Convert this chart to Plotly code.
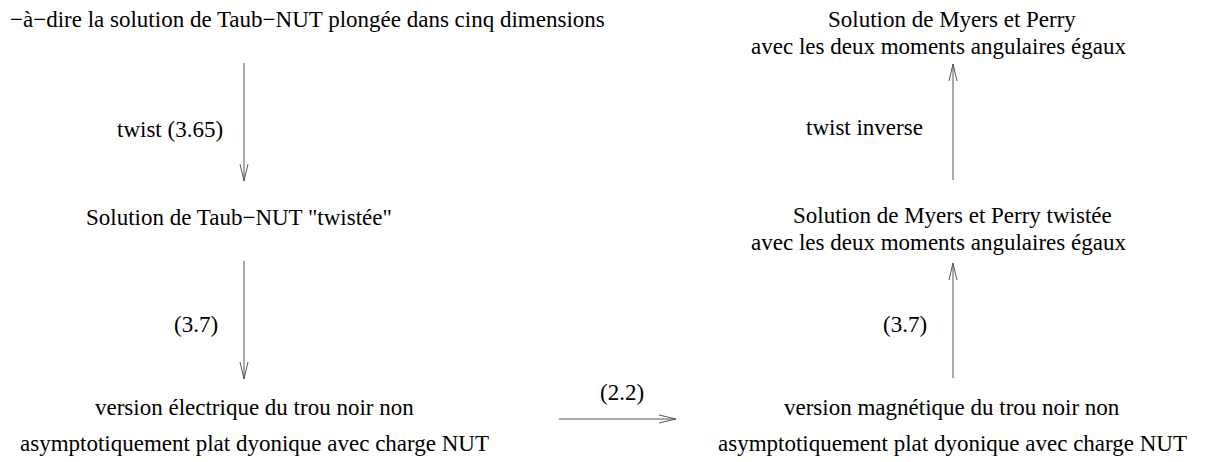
import plotly.graph_objects as go

W, H = 1209, 462
FONT = "Liberation Serif"
FS = 23

# Diagram nodes (text, centre x, centre y, horizontal anchor)
node_text = [
    "−à−dire la solution de Taub−NUT plongée dans cinq dimensions",
    "Solution de Taub−NUT \"twistée\"",
    "version électrique du trou noir non",
    "asymptotiquement plat dyonique avec charge NUT",
    "Solution de Myers et Perry",
    "avec les deux moments angulaires égaux",
    "Solution de Myers et Perry twistée",
    "avec les deux moments angulaires égaux",
    "version magnétique du trou noir non",
    "asymptotiquement plat dyonique avec charge NUT",
]
node_x = [0, 231, 246, 246, 944, 930, 944, 930, 944, 944]
node_y = [11, 209, 399, 435, 11, 38, 207, 234, 399, 435]
node_anchor = ["left", "center", "center", "center", "center",
               "center", "center", "center", "center", "center"]

# Arrow labels (text, x, centre y, anchor)
label_text = ["twist (3.65)", "(3.7)", "twist inverse", "(3.7)", "(2.2)"]
label_x = [217, 212, 917, 921, 614]
label_y = [121, 316, 119, 316, 384]
label_anchor = ["right", "right", "right", "right", "center"]

# Arrows (start -> tip)
arrow_x0 = [236, 236, 945, 945, 551]
arrow_y0 = [55, 253, 172, 370, 411]
arrow_x1 = [236, 236, 945, 945, 668]
arrow_y1 = [173, 371, 56, 255, 411]

HEAD_LEN, HEAD_HALF = 17, 4

fig = go.Figure()

xs, ys = [], []
for x0, y0, x1, y1 in zip(arrow_x0, arrow_y0, arrow_x1, arrow_y1):
    dx, dy = x1 - x0, y1 - y0
    L = (dx * dx + dy * dy) ** 0.5
    ux, uy = dx / L, dy / L
    px, py = -uy, ux
    bx, by = x1 - ux * HEAD_LEN, y1 - uy * HEAD_LEN
    xs += [x0, x1, None,
           bx + px * HEAD_HALF, x1, bx - px * HEAD_HALF, None]
    ys += [y0, y1, None,
           by + py * HEAD_HALF, y1, by - py * HEAD_HALF, None]

fig.add_trace(go.Scatter(x=xs, y=ys, mode="lines",
                         line=dict(color="#555555", width=1),
                         hoverinfo="skip", showlegend=False))

for t, x, y, a in zip(node_text, node_x, node_y, node_anchor):
    fig.add_annotation(x=x, y=y, text=t, showarrow=False, xanchor=a,
                       yanchor="middle", font=dict(family=FONT, size=FS, color="black"))

for t, x, y, a in zip(label_text, label_x, label_y, label_anchor):
    fig.add_annotation(x=x, y=y, text=t, showarrow=False, xanchor=a,
                       yanchor="middle", font=dict(family=FONT, size=FS, color="black"))

fig.update_layout(
    width=W, height=H,
    margin=dict(l=0, r=0, t=0, b=0),
    paper_bgcolor="white", plot_bgcolor="white",
    xaxis=dict(range=[0, W], visible=False, fixedrange=True),
    yaxis=dict(range=[H, 0], visible=False, fixedrange=True),
    showlegend=False,
)

fig.write_html("out.html")
